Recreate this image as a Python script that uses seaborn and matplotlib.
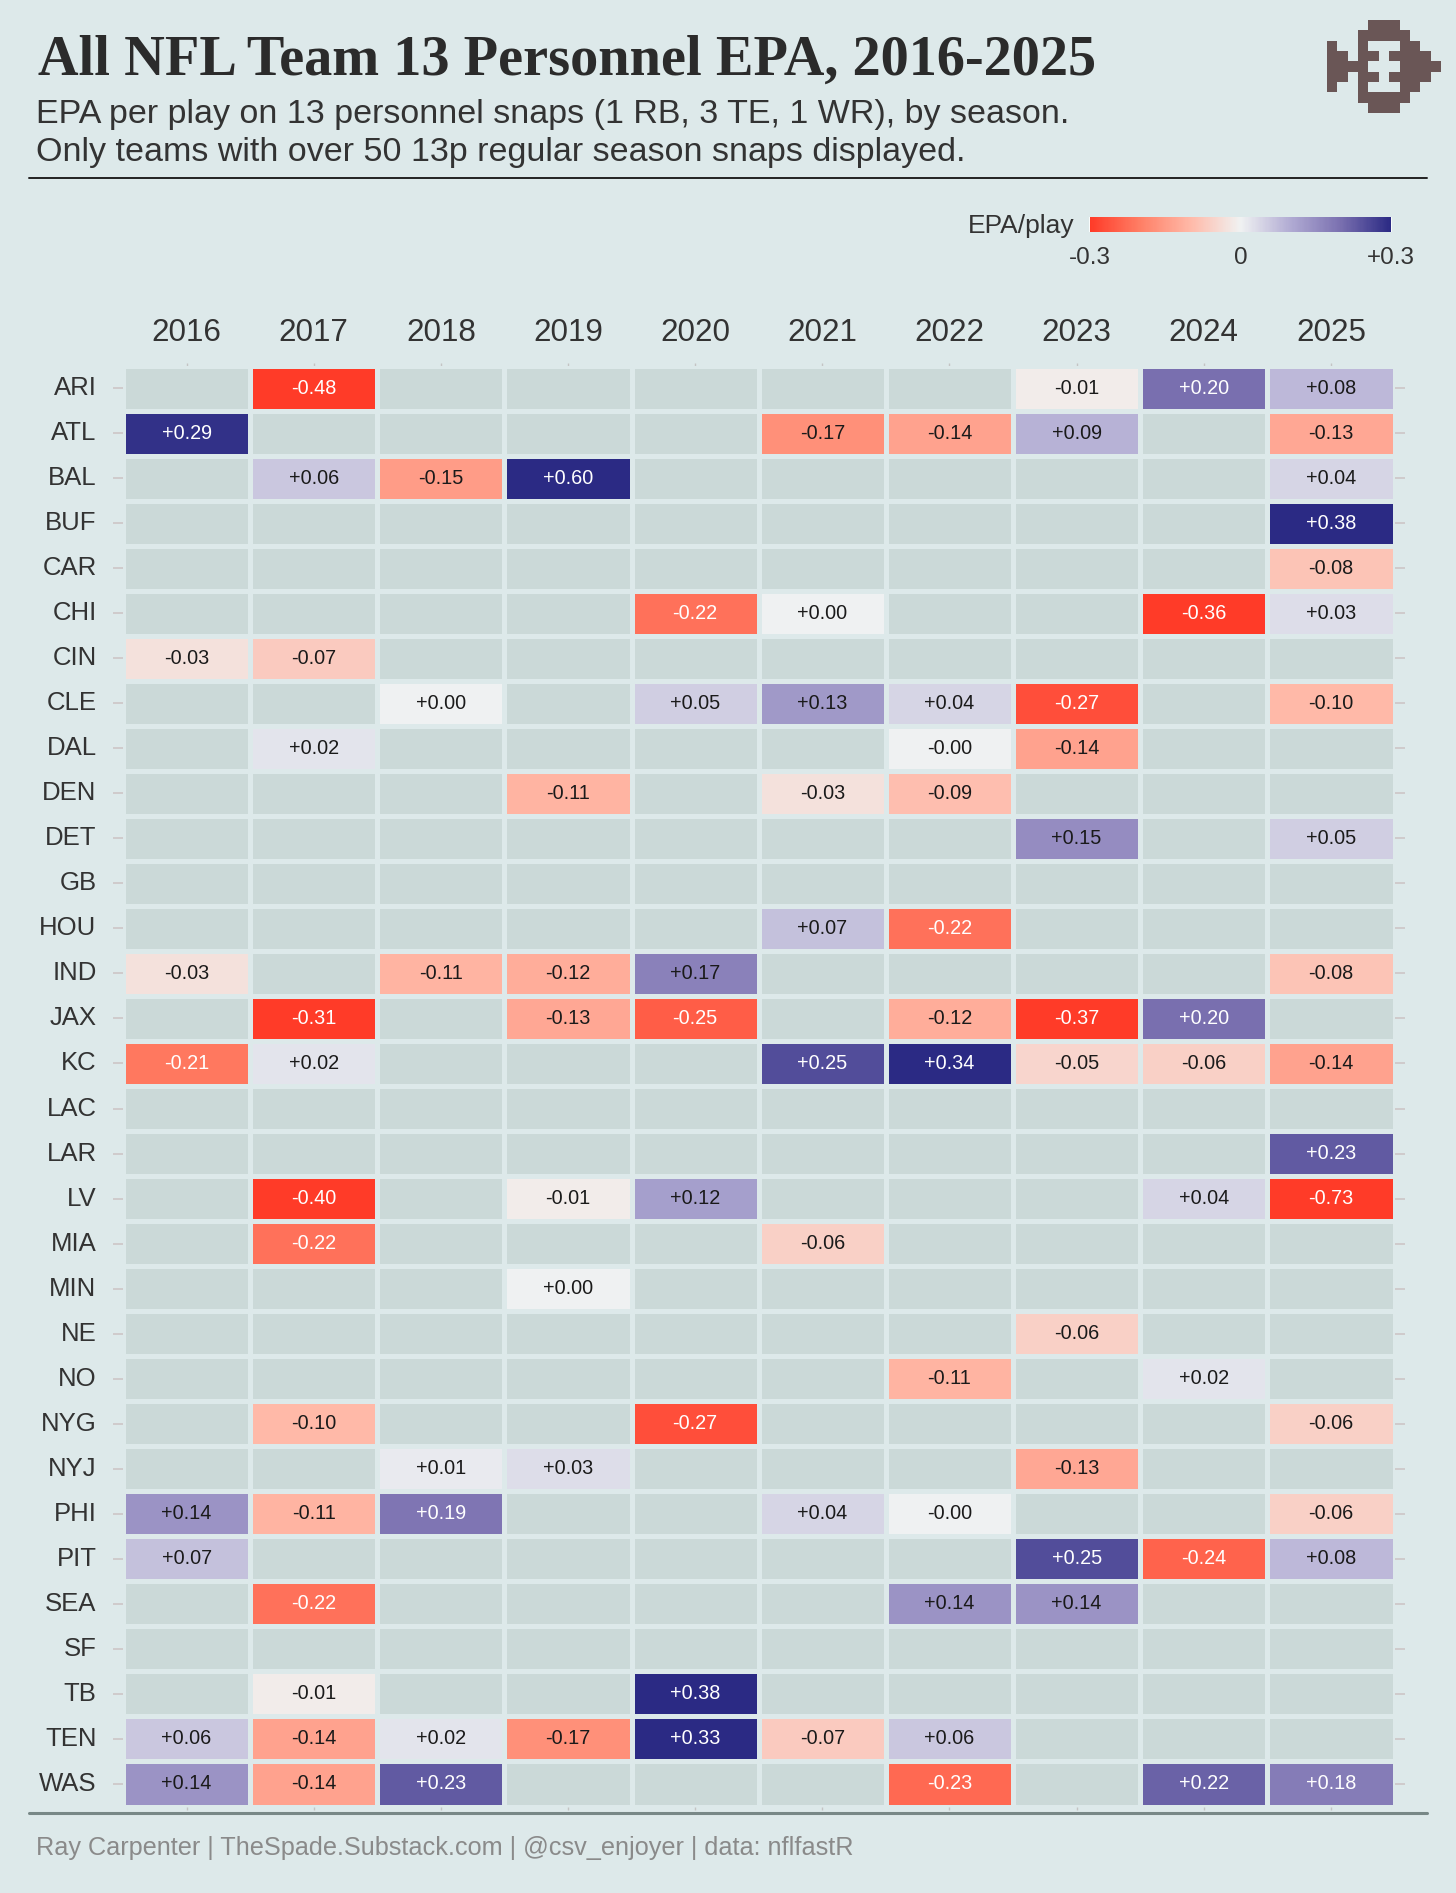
import numpy as np
import pandas as pd
import matplotlib
matplotlib.use("Agg")
import matplotlib.pyplot as plt
from matplotlib.colors import LinearSegmentedColormap, ListedColormap
from matplotlib.lines import Line2D
import seaborn as sns

nan = np.nan

teams = ["ARI", "ATL", "BAL", "BUF", "CAR", "CHI", "CIN", "CLE", "DAL", "DEN",
         "DET", "GB", "HOU", "IND", "JAX", "KC", "LAC", "LAR", "LV", "MIA",
         "MIN", "NE", "NO", "NYG", "NYJ", "PHI", "PIT", "SEA", "SF", "TB",
         "TEN", "WAS"]
seasons = [2016, 2017, 2018, 2019, 2020, 2021, 2022, 2023, 2024, 2025]

# EPA/play on 13 personnel snaps, one row per team (2016..2025), nan = under 50 snaps
epa = [
    [nan, -0.48, nan, nan, nan, nan, nan, -0.01, 0.20, 0.08],      # ARI
    [0.29, nan, nan, nan, nan, -0.17, -0.14, 0.09, nan, -0.13],    # ATL
    [nan, 0.06, -0.15, 0.60, nan, nan, nan, nan, nan, 0.04],       # BAL
    [nan, nan, nan, nan, nan, nan, nan, nan, nan, 0.38],           # BUF
    [nan, nan, nan, nan, nan, nan, nan, nan, nan, -0.08],          # CAR
    [nan, nan, nan, nan, -0.22, 0.00, nan, nan, -0.36, 0.03],      # CHI
    [-0.03, -0.07, nan, nan, nan, nan, nan, nan, nan, nan],        # CIN
    [nan, nan, 0.00, nan, 0.05, 0.13, 0.04, -0.27, nan, -0.10],    # CLE
    [nan, 0.02, nan, nan, nan, nan, -0.0, -0.14, nan, nan],        # DAL
    [nan, nan, nan, -0.11, nan, -0.03, -0.09, nan, nan, nan],      # DEN
    [nan, nan, nan, nan, nan, nan, nan, 0.15, nan, 0.05],          # DET
    [nan, nan, nan, nan, nan, nan, nan, nan, nan, nan],            # GB
    [nan, nan, nan, nan, nan, 0.07, -0.22, nan, nan, nan],         # HOU
    [-0.03, nan, -0.11, -0.12, 0.17, nan, nan, nan, nan, -0.08],   # IND
    [nan, -0.31, nan, -0.13, -0.25, nan, -0.12, -0.37, 0.20, nan], # JAX
    [-0.21, 0.02, nan, nan, nan, 0.25, 0.34, -0.05, -0.06, -0.14], # KC
    [nan, nan, nan, nan, nan, nan, nan, nan, nan, nan],            # LAC
    [nan, nan, nan, nan, nan, nan, nan, nan, nan, 0.23],           # LAR
    [nan, -0.40, nan, -0.01, 0.12, nan, nan, nan, 0.04, -0.73],    # LV
    [nan, -0.22, nan, nan, nan, -0.06, nan, nan, nan, nan],        # MIA
    [nan, nan, nan, 0.00, nan, nan, nan, nan, nan, nan],           # MIN
    [nan, nan, nan, nan, nan, nan, nan, -0.06, nan, nan],          # NE
    [nan, nan, nan, nan, nan, nan, -0.11, nan, 0.02, nan],         # NO
    [nan, -0.10, nan, nan, -0.27, nan, nan, nan, nan, -0.06],      # NYG
    [nan, nan, 0.01, 0.03, nan, nan, nan, -0.13, nan, nan],        # NYJ
    [0.14, -0.11, 0.19, nan, nan, 0.04, -0.0, nan, nan, -0.06],    # PHI
    [0.07, nan, nan, nan, nan, nan, nan, 0.25, -0.24, 0.08],       # PIT
    [nan, -0.22, nan, nan, nan, nan, 0.14, 0.14, nan, nan],        # SEA
    [nan, nan, nan, nan, nan, nan, nan, nan, nan, nan],            # SF
    [nan, -0.01, nan, nan, 0.38, nan, nan, nan, nan, nan],         # TB
    [0.06, -0.14, 0.02, -0.17, 0.33, -0.07, 0.06, nan, nan, nan],  # TEN
    [0.14, -0.14, 0.23, nan, nan, nan, -0.23, nan, 0.22, 0.18],    # WAS
]

# pixel logo, top right corner
logo_rows = [
    "....###....",
    "...#####...",
    "#..#...##..",
    "##.##.####.",
    "####...####",
    "##.##.####.",
    "#..#...##..",
    "...#####...",
    "....###....",
]

BG = "#dde9ea"
EMPTY = "#cbd9d8"
INK = "#333333"
W, H = 1456, 1893

sns.set_theme(style="white")
plt.rcParams["font.family"] = ["Liberation Sans", "DejaVu Sans"]

epa_cmap = LinearSegmentedColormap.from_list("epa", [
    (0.0, "#ff3b28"), (1 / 6, "#ff7f66"), (2 / 6, "#ffb9a8"), (0.5, "#f0f2f2"),
    (4 / 6, "#b1abd3"), (5 / 6, "#7a70b0"), (1.0, "#2b2a84")])

df = pd.DataFrame(epa, index=teams, columns=seasons)


def fig_box(x0, y0, x1, y1):
    # pixel box (top-left origin) -> figure fraction rect
    return [x0 / W, 1 - y1 / H, (x1 - x0) / W, (y1 - y0) / H]


fig = plt.figure(figsize=(W / 100, H / 100), dpi=100, facecolor=BG)
ax = fig.add_axes(fig_box(123, 365.5, 1394.5, 1806.5))
ax.set_facecolor(BG)

# grey tiles for every team-season, then the coloured ones on top
sns.heatmap(np.zeros(df.shape), cmap=ListedColormap([EMPTY]), cbar=False,
            linewidths=3.6, linecolor=BG, ax=ax)
sns.heatmap(df, cmap=epa_cmap, vmin=-0.3, vmax=0.3, mask=df.isna(), cbar=False,
            linewidths=3.6, linecolor=BG, ax=ax)

for i in range(len(teams)):
    for j in range(len(seasons)):
        v = df.iat[i, j]
        if np.isnan(v):
            continue
        tc = "white" if abs(v) >= 0.18 else "#1a1a1a"
        ax.text(j + 0.5, i + 0.5, f"{v:+.2f}", ha="center", va="center",
                fontsize=14.3, color=tc)

ax.xaxis.tick_top()
ax.set_xticklabels(seasons, fontsize=22.6, color=INK, rotation=0)
ax.set_yticklabels(teams, fontsize=18.5, color=INK, rotation=0)
ax.set_xlabel("")
ax.set_ylabel("")
ax.tick_params(axis="x", top=True, bottom=True, labeltop=True, labelbottom=False,
               length=2, width=1, color="#c4c4c4", pad=10.3)
ax.tick_params(axis="y", left=True, right=True, length=7, width=1.2,
               color="#cdc6c6", pad=12)
for s in ax.spines.values():
    s.set_visible(False)

# legend bar
cax = fig.add_axes(fig_box(1090, 217, 1391, 232))
cb = fig.colorbar(ax.collections[1], cax=cax, orientation="horizontal")
cb.outline.set_visible(False)
cb.set_ticks([-0.3, -0.15, 0, 0.15, 0.3])
cb.set_ticklabels(["-0.3", "", "0", "", "+0.3"])
cax.tick_params(direction="in", length=11, width=1.2, color="white",
                labelsize=17.5, labelcolor=INK, pad=11)
fig.text(1074 / W, 1 - 226 / H, "EPA/play", ha="right", va="center",
         fontsize=19, color=INK)

# titles
fig.text(38 / W, 1 - 75 / H, "All NFL Team 13 Personnel EPA, 2016-2025",
         family=["Liberation Serif", "DejaVu Serif"], fontweight="bold",
         fontsize=40.5, color="#2b2b2b", va="baseline")
fig.text(36 / W, 1 - 122.5 / H,
         "EPA per play on 13 personnel snaps (1 RB, 3 TE, 1 WR), by season.",
         fontsize=24.5, color=INK, va="baseline")
fig.text(36 / W, 1 - 160.5 / H,
         "Only teams with over 50 13p regular season snaps displayed.",
         fontsize=24.5, color=INK, va="baseline")
fig.add_artist(Line2D([29 / W, 1427 / W], [1 - 177.5 / H] * 2,
                      color="#222222", lw=1.4))

# footer
fig.add_artist(Line2D([29 / W, 1427 / W], [1 - 1812.5 / H] * 2,
                      color="#788887", lw=2.2))
fig.text(36 / W, 1 - 1855 / H,
         "Ray Carpenter | TheSpade.Substack.com | @csv_enjoyer | data: nflfastR",
         fontsize=18.2, color="#8a8a8a", va="baseline")

# logo
lax = fig.add_axes(fig_box(1326.7, 20, 1440, 113))
logo = np.array([[1 if c == "#" else 0 for c in r] for r in logo_rows])
lax.imshow(logo, cmap=ListedColormap([BG, "#6a5656"]), aspect="auto",
           interpolation="nearest")
lax.axis("off")

fig.savefig("out.png", dpi=100, facecolor=BG)
